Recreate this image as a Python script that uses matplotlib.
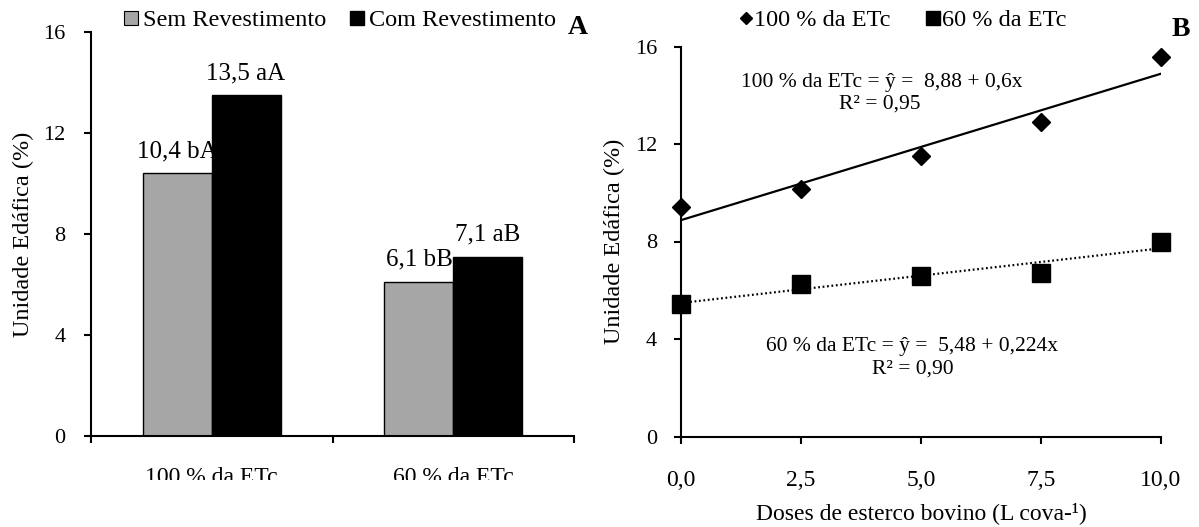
import matplotlib
matplotlib.use("Agg")
import matplotlib.pyplot as plt
import numpy as np
from matplotlib.patches import Patch
from matplotlib.lines import Line2D
from matplotlib.transforms import Bbox, TransformedBbox

plt.rcParams['font.family'] = ['Liberation Serif', 'DejaVu Serif']
plt.rcParams['axes.linewidth'] = 1.5

# Panel A: soil moisture by irrigation level and lining
categories = ["100 % da ETc", "60 % da ETc"]
sem_revest = [10.4, 6.1]
com_revest = [13.5, 7.1]
sem_labels = ["10,4 bA", "6,1 bB"]
com_labels = ["13,5 aA", "7,1 aB"]

# Panel B: moisture vs. manure dose
doses = [0.0, 2.5, 5.0, 7.5, 10.0]
umid_100 = [9.4, 10.15, 11.5, 12.9, 15.55]
umid_60 = [5.45, 6.25, 6.6, 6.7, 8.0]
fit_100 = (8.88, 0.6, 0.95)
fit_60 = (5.48, 0.224, 0.90)

W, H = 1199, 527
fig = plt.figure(figsize=(W / 100, H / 100), dpi=100)

def px_axes(x0, x1, y0, y1):
    return fig.add_axes([x0 / W, 1 - y1 / H, (x1 - x0) / W, (y1 - y0) / H])

# ---------- A ----------
axA = px_axes(90.7, 574.3, 32.3, 435.7)
x = np.arange(len(categories))
bw = 0.285
axA.bar(x - bw / 2, sem_revest, bw, color="#a6a6a6", edgecolor="black", linewidth=1.0)
axA.bar(x + bw / 2, com_revest, bw, color="black", edgecolor="black", linewidth=1.0)
for i in range(len(categories)):
    axA.annotate(sem_labels[i], (x[i] - bw / 2, sem_revest[i]), xytext=(0, 16),
                 textcoords="offset points", ha="center", va="center", fontsize=18)
    axA.annotate(com_labels[i], (x[i] + bw / 2, com_revest[i]), xytext=(0, 16),
                 textcoords="offset points", ha="center", va="center", fontsize=18)

axA.set_xlim(-0.5, len(categories) - 0.5)
axA.set_ylim(0, 16)
axA.set_yticks([0, 4, 8, 12, 16])
axA.set_xticks(np.arange(-0.5, len(categories), 1.0))
axA.set_xticklabels([])
axA.set_xticks(x, minor=True)
axA.set_xticklabels(categories, minor=True, fontsize=17)
axA.tick_params(axis="x", which="minor", length=0, pad=22.5)
axA.tick_params(axis="x", which="major", length=5, width=1.5, direction="out")
axA.tick_params(axis="y", length=5, width=1.5, direction="out", labelsize=16, pad=13)
axA.set_ylabel("Unidade Edáfica (%)", fontsize=17.5, va="center")
axA.yaxis.set_label_coords(-67 / 483.6, 0.5)
for s in ("top", "right"):
    axA.spines[s].set_visible(False)

# category labels are cut at the lower edge
clip = TransformedBbox(Bbox.from_extents(0, 1 - 480 / H, 0.5, 1), fig.transFigure)
for t in axA.get_xticklabels(minor=True):
    t.set_clip_box(clip)
    t.set_clip_on(True)

hA = [Patch(facecolor="#a6a6a6", edgecolor="black", linewidth=0.8),
      Patch(facecolor="black", edgecolor="black")]
axA.legend(hA, ["Sem Revestimento", "Com Revestimento"], ncol=2, frameon=False,
           loc="center", bbox_to_anchor=(340 / W, 1 - 21 / H), bbox_transform=fig.transFigure,
           fontsize=17.5, handlelength=0.55, handleheight=0.55, handletextpad=0.2,
           columnspacing=1.0, borderaxespad=0)
fig.text(577.5 / W, 1 - 28 / H, "A", fontsize=20, fontweight="bold", ha="center", va="center")

# ---------- B ----------
axB = px_axes(681.3, 1160.7, 46.5, 436.5)
xx = np.array([0, 10])
axB.plot(xx, fit_100[0] + fit_100[1] * xx, color="black", lw=1.6, zorder=2)
axB.plot(xx, fit_60[0] + fit_60[1] * xx, color="black", lw=1.6,
         ls=(0, (0.8, 1.2)), zorder=2)
axB.plot(doses, umid_100, ls="none", marker="D", ms=9.5, color="black", zorder=3, clip_on=False)
axB.plot(doses, umid_60, ls="none", marker="s", ms=13.5, color="black", zorder=3, clip_on=False)

def fmt(v, d):
    return f"{v:.{d}f}".replace(".", ",")

eq_fs = 15.5
axB.text(4.18, 14.54, f"100 % da ETc = ŷ =  {fmt(fit_100[0], 2)} + {fmt(fit_100[1], 1)}x",
         fontsize=eq_fs, ha="center", va="center")
axB.text(4.14, 13.64, f"R² = {fmt(fit_100[2], 2)}", fontsize=eq_fs, ha="center", va="center")
axB.text(4.81, 3.69, f"60 % da ETc = ŷ =  {fmt(fit_60[0], 2)} + {fmt(fit_60[1], 3)}x",
         fontsize=eq_fs, ha="center", va="center")
axB.text(4.82, 2.75, f"R² = {fmt(fit_60[2], 2)}", fontsize=eq_fs, ha="center", va="center")

axB.set_xlim(0, 10)
axB.set_ylim(0, 16)
axB.set_xticks(doses)
axB.set_xticklabels([fmt(d, 1) for d in doses])
axB.set_yticks([0, 4, 8, 12, 16])
axB.tick_params(axis="x", length=5, width=1.5, direction="out", labelsize=17, pad=19)
axB.tick_params(axis="y", length=5, width=1.5, direction="out", labelsize=16, pad=12.5)
axB.set_ylabel("Unidade Edáfica (%)", fontsize=17.5, va="center")
axB.yaxis.set_label_coords(-67 / 479.4, 0.5)
axB.set_xlabel("Doses de esterco bovino (L cova-¹)", fontsize=17, va="center")
axB.xaxis.set_label_coords(0.5, -76.5 / 390)
for s in ("top", "right"):
    axB.spines[s].set_visible(False)

hB = [Line2D([], [], ls="none", marker="D", ms=6.5, color="black"),
      Line2D([], [], ls="none", marker="s", ms=9.5, color="black")]
axB.legend(hB, ["100 % da ETc", "60 % da ETc"], ncol=2, frameon=False,
           loc="center", bbox_to_anchor=(903 / W, 1 - 20 / H), bbox_transform=fig.transFigure,
           fontsize=17.5, handlelength=0.5, handletextpad=0.1, columnspacing=1.5,
           borderaxespad=0)
fig.text(1181 / W, 1 - 30 / H, "B", fontsize=20, fontweight="bold", ha="center", va="center")

fig.savefig("out.png", dpi=100)
